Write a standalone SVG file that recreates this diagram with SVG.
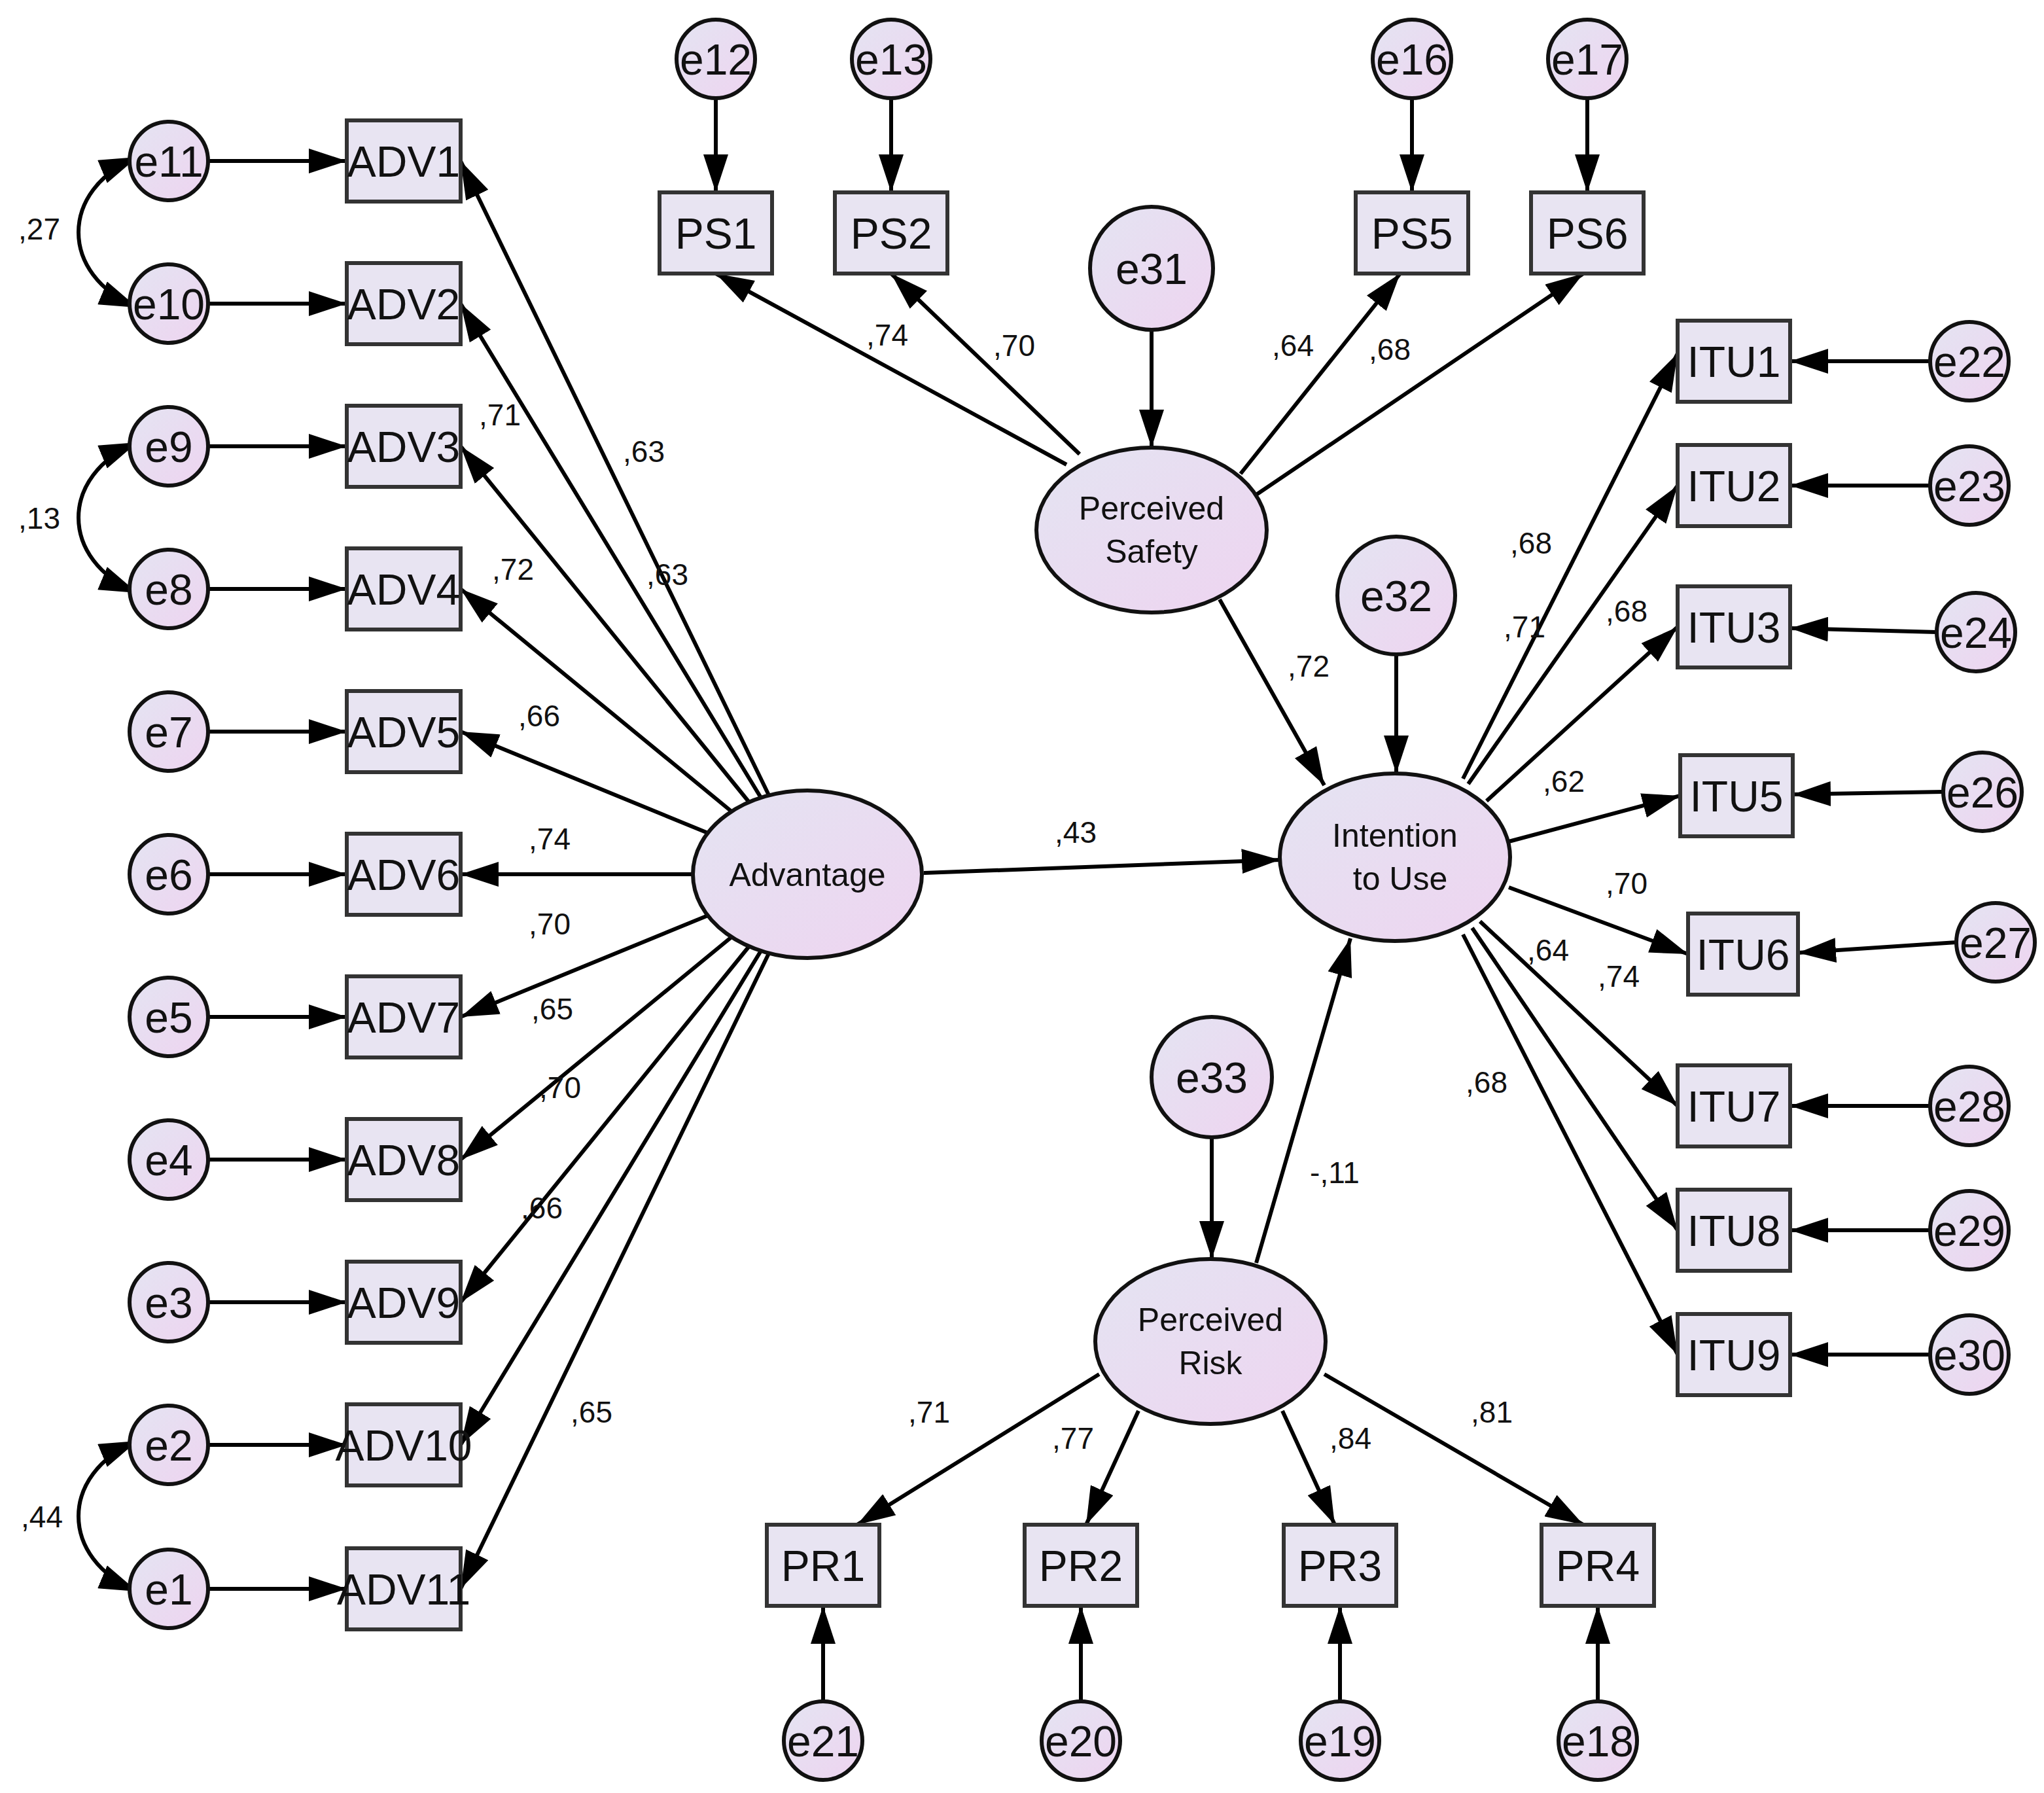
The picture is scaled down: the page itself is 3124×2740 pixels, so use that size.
<svg xmlns="http://www.w3.org/2000/svg" width="3124" height="2740" viewBox="0 0 3124 2740">
<defs>
<linearGradient id="g" x1="0" y1="0" x2="1" y2="1"><stop offset="0" stop-color="#e4e4f2"/><stop offset="1" stop-color="#eed4f0"/></linearGradient>
<marker id="a" markerUnits="userSpaceOnUse" markerWidth="60" markerHeight="38" refX="58" refY="19" orient="auto"><path d="M0,0 L58,19 L0,38 Z" fill="#000"/></marker>
<marker id="s" markerUnits="userSpaceOnUse" markerWidth="60" markerHeight="38" refX="58" refY="19" orient="auto-start-reverse"><path d="M0,0 L58,19 L0,38 Z" fill="#000"/></marker>
</defs>
<style>
.c{fill:url(#g);stroke:#111;stroke-width:6}
.b{fill:#e8e4f2;stroke:#333;stroke-width:6}
.t{font-family:"Liberation Sans",Arial,sans-serif;text-anchor:middle;fill:#111}
.et{font-size:66px}.bt{font-size:66px}.lt{font-size:50px}.nt{font-size:46px}
#conn line,#conn path{stroke:#000;stroke-width:6;fill:none;marker-end:url(#a)}
</style>
<rect width="3124" height="2740" fill="#fff"/>
<g id="conn">
<line x1="318" y1="246" x2="530" y2="246"/><line x1="318" y1="464" x2="530" y2="464"/>
<line x1="318" y1="682" x2="530" y2="682"/><line x1="318" y1="900" x2="530" y2="900"/>
<line x1="318" y1="1118" x2="530" y2="1118"/><line x1="318" y1="1336" x2="530" y2="1336"/>
<line x1="318" y1="1554" x2="530" y2="1554"/><line x1="318" y1="1772" x2="530" y2="1772"/>
<line x1="318" y1="1990" x2="530" y2="1990"/><line x1="318" y1="2208" x2="530" y2="2208"/>
<line x1="318" y1="2428" x2="530" y2="2428"/>
<path d="M210,240 C90,290 90,420 210,470" style="marker-start:url(#s)"/>
<path d="M210,676 C90,726 90,856 210,906" style="marker-start:url(#s)"/>
<path d="M210,2202 C90,2252 90,2382 210,2432" style="marker-start:url(#s)"/>
<line x1="1175" y1="1215" x2="704" y2="246"/><line x1="1163" y1="1219" x2="704" y2="464"/>
<line x1="1145" y1="1226" x2="704" y2="682"/><line x1="1118" y1="1240" x2="704" y2="900"/>
<line x1="1082" y1="1273" x2="704" y2="1118"/><line x1="1059" y1="1336" x2="704" y2="1336"/>
<line x1="1082" y1="1399" x2="704" y2="1554"/><line x1="1118" y1="1432" x2="704" y2="1772"/>
<line x1="1145" y1="1446" x2="704" y2="1990"/><line x1="1163" y1="1453" x2="704" y2="2208"/>
<line x1="1175" y1="1457" x2="704" y2="2428"/>
<line x1="1094" y1="150" x2="1094" y2="294"/><line x1="1362" y1="150" x2="1362" y2="294"/>
<line x1="2158" y1="150" x2="2158" y2="294"/><line x1="2426" y1="150" x2="2426" y2="294"/>
<line x1="1760" y1="504" x2="1760" y2="684"/>
<line x1="1630" y1="710" x2="1094" y2="418"/><line x1="1650" y1="694" x2="1362" y2="418"/>
<line x1="1896" y1="724" x2="2140" y2="418"/><line x1="1920" y1="756" x2="2420" y2="418"/>
<line x1="1864" y1="916" x2="2024" y2="1200"/>
<line x1="1412" y1="1334" x2="1956" y2="1314"/>
<line x1="2134" y1="1000" x2="2134" y2="1182"/>
<line x1="1852" y1="1738" x2="1852" y2="1924"/>
<line x1="1920" y1="1930" x2="2064" y2="1434"/>
<line x1="1680" y1="2100" x2="1310" y2="2330"/><line x1="1740" y1="2156" x2="1660" y2="2330"/>
<line x1="1960" y1="2156" x2="2040" y2="2330"/><line x1="2024" y1="2100" x2="2420" y2="2330"/>
<line x1="1258" y1="2600" x2="1258" y2="2454"/><line x1="1652" y1="2600" x2="1652" y2="2454"/>
<line x1="2048" y1="2600" x2="2048" y2="2454"/><line x1="2442" y1="2600" x2="2442" y2="2454"/>
<line x1="2236" y1="1190" x2="2564" y2="540"/><line x1="2244" y1="1198" x2="2564" y2="742"/>
<line x1="2272" y1="1224" x2="2564" y2="958"/><line x1="2306" y1="1286" x2="2568" y2="1216"/>
<line x1="2306" y1="1356" x2="2580" y2="1458"/><line x1="2262" y1="1408" x2="2564" y2="1690"/>
<line x1="2250" y1="1418" x2="2564" y2="1880"/><line x1="2236" y1="1428" x2="2564" y2="2070"/>
<line x1="2950" y1="552" x2="2736" y2="552"/><line x1="2950" y1="742" x2="2736" y2="742"/>
<line x1="2960" y1="966" x2="2736" y2="960"/><line x1="2970" y1="1210" x2="2740" y2="1214"/>
<line x1="2990" y1="1440" x2="2748" y2="1456"/><line x1="2950" y1="1690" x2="2736" y2="1690"/>
<line x1="2950" y1="1880" x2="2736" y2="1880"/><line x1="2950" y1="2070" x2="2736" y2="2070"/>
</g>
<g class="t nt">
<text x="60" y="366">,27</text><text x="60" y="808">,13</text><text x="64" y="2334">,44</text>
<text x="984" y="706">,63</text><text x="1020" y="894">,63</text><text x="764" y="650">,71</text>
<text x="784" y="886">,72</text><text x="824" y="1110">,66</text><text x="840" y="1298">,74</text>
<text x="840" y="1428">,70</text><text x="844" y="1558">,65</text><text x="856" y="1678">,70</text>
<text x="828" y="1862">,66</text><text x="904" y="2174">,65</text>
<text x="1356" y="528">,74</text><text x="1550" y="544">,70</text><text x="1976" y="544">,64</text><text x="2124" y="550">,68</text>
<text x="2000" y="1034">,72</text><text x="1644" y="1288">,43</text><text x="2040" y="1808">-,11</text>
<text x="1420" y="2174">,71</text><text x="1640" y="2214">,77</text><text x="2064" y="2214">,84</text><text x="2280" y="2174">,81</text>
<text x="2340" y="846">,68</text><text x="2330" y="974">,71</text><text x="2486" y="950">,68</text><text x="2390" y="1210">,62</text>
<text x="2486" y="1366">,70</text><text x="2366" y="1468">,64</text><text x="2474" y="1508">,74</text><text x="2272" y="1670">,68</text>
</g>
<g id="e11"><circle class="c" cx="258" cy="246" r="60"/><text class="t et" x="258" y="270">e11</text></g>
<g id="e10"><circle class="c" cx="258" cy="464" r="60"/><text class="t et" x="258" y="488">e10</text></g>
<g id="e9"><circle class="c" cx="258" cy="682" r="60"/><text class="t et" x="258" y="706">e9</text></g>
<g id="e8"><circle class="c" cx="258" cy="900" r="60"/><text class="t et" x="258" y="924">e8</text></g>
<g id="e7"><circle class="c" cx="258" cy="1118" r="60"/><text class="t et" x="258" y="1142">e7</text></g>
<g id="e6"><circle class="c" cx="258" cy="1336" r="60"/><text class="t et" x="258" y="1360">e6</text></g>
<g id="e5"><circle class="c" cx="258" cy="1554" r="60"/><text class="t et" x="258" y="1578">e5</text></g>
<g id="e4"><circle class="c" cx="258" cy="1772" r="60"/><text class="t et" x="258" y="1796">e4</text></g>
<g id="e3"><circle class="c" cx="258" cy="1990" r="60"/><text class="t et" x="258" y="2014">e3</text></g>
<g id="e2"><circle class="c" cx="258" cy="2208" r="60"/><text class="t et" x="258" y="2232">e2</text></g>
<g id="e1"><circle class="c" cx="258" cy="2428" r="60"/><text class="t et" x="258" y="2452">e1</text></g>
<g id="ADV1"><rect class="b" x="530" y="184" width="174" height="124"/><text class="t bt" x="617" y="270">ADV1</text></g>
<g id="ADV2"><rect class="b" x="530" y="402" width="174" height="124"/><text class="t bt" x="617" y="488">ADV2</text></g>
<g id="ADV3"><rect class="b" x="530" y="620" width="174" height="124"/><text class="t bt" x="617" y="706">ADV3</text></g>
<g id="ADV4"><rect class="b" x="530" y="838" width="174" height="124"/><text class="t bt" x="617" y="924">ADV4</text></g>
<g id="ADV5"><rect class="b" x="530" y="1056" width="174" height="124"/><text class="t bt" x="617" y="1142">ADV5</text></g>
<g id="ADV6"><rect class="b" x="530" y="1274" width="174" height="124"/><text class="t bt" x="617" y="1360">ADV6</text></g>
<g id="ADV7"><rect class="b" x="530" y="1492" width="174" height="124"/><text class="t bt" x="617" y="1578">ADV7</text></g>
<g id="ADV8"><rect class="b" x="530" y="1710" width="174" height="124"/><text class="t bt" x="617" y="1796">ADV8</text></g>
<g id="ADV9"><rect class="b" x="530" y="1928" width="174" height="124"/><text class="t bt" x="617" y="2014">ADV9</text></g>
<g id="ADV10"><rect class="b" x="530" y="2146" width="174" height="124"/><text class="t bt" x="617" y="2232">ADV10</text></g>
<g id="ADV11"><rect class="b" x="530" y="2366" width="174" height="124"/><text class="t bt" x="617" y="2452">ADV11</text></g>
<g id="Advantage"><ellipse class="c" cx="1234" cy="1336" rx="175" ry="128"/><text class="t lt" x="1234" y="1354">Advantage</text></g>
<g id="e12"><circle class="c" cx="1094" cy="90" r="60"/><text class="t et" x="1094" y="114">e12</text></g>
<g id="e13"><circle class="c" cx="1362" cy="90" r="60"/><text class="t et" x="1362" y="114">e13</text></g>
<g id="e16"><circle class="c" cx="2158" cy="90" r="60"/><text class="t et" x="2158" y="114">e16</text></g>
<g id="e17"><circle class="c" cx="2426" cy="90" r="60"/><text class="t et" x="2426" y="114">e17</text></g>
<g id="PS1"><rect class="b" x="1008" y="294" width="172" height="124"/><text class="t bt" x="1094" y="380">PS1</text></g>
<g id="PS2"><rect class="b" x="1276" y="294" width="172" height="124"/><text class="t bt" x="1362" y="380">PS2</text></g>
<g id="PS5"><rect class="b" x="2072" y="294" width="172" height="124"/><text class="t bt" x="2158" y="380">PS5</text></g>
<g id="PS6"><rect class="b" x="2340" y="294" width="172" height="124"/><text class="t bt" x="2426" y="380">PS6</text></g>
<g id="e31"><circle class="c" cx="1760" cy="410" r="94"/><text class="t et" x="1760" y="434">e31</text></g>
<g id="PerceivedSafety"><ellipse class="c" cx="1760" cy="810" rx="176" ry="126"/><text class="t lt" x="1760" y="794">Perceived</text><text class="t lt" x="1760" y="860">Safety</text></g>
<g id="e32"><circle class="c" cx="2134" cy="910" r="90"/><text class="t et" x="2134" y="934">e32</text></g>
<g id="IntentionToUse"><ellipse class="c" cx="2132" cy="1310" rx="176" ry="128"/><text class="t lt" x="2132" y="1294">Intention</text><text class="t lt" x="2140" y="1360">to Use</text></g>
<g id="e33"><circle class="c" cx="1852" cy="1646" r="92"/><text class="t et" x="1852" y="1670">e33</text></g>
<g id="PerceivedRisk"><ellipse class="c" cx="1850" cy="2050" rx="176" ry="126"/><text class="t lt" x="1850" y="2034">Perceived</text><text class="t lt" x="1850" y="2100">Risk</text></g>
<g id="PR1"><rect class="b" x="1172" y="2330" width="172" height="124"/><text class="t bt" x="1258" y="2416">PR1</text></g>
<g id="PR2"><rect class="b" x="1566" y="2330" width="172" height="124"/><text class="t bt" x="1652" y="2416">PR2</text></g>
<g id="PR3"><rect class="b" x="1962" y="2330" width="172" height="124"/><text class="t bt" x="2048" y="2416">PR3</text></g>
<g id="PR4"><rect class="b" x="2356" y="2330" width="172" height="124"/><text class="t bt" x="2442" y="2416">PR4</text></g>
<g id="e21"><circle class="c" cx="1258" cy="2660" r="60"/><text class="t et" x="1258" y="2684">e21</text></g>
<g id="e20"><circle class="c" cx="1652" cy="2660" r="60"/><text class="t et" x="1652" y="2684">e20</text></g>
<g id="e19"><circle class="c" cx="2048" cy="2660" r="60"/><text class="t et" x="2048" y="2684">e19</text></g>
<g id="e18"><circle class="c" cx="2442" cy="2660" r="60"/><text class="t et" x="2442" y="2684">e18</text></g>
<g id="ITU1"><rect class="b" x="2564" y="490" width="172" height="124"/><text class="t bt" x="2650" y="576">ITU1</text></g>
<g id="ITU2"><rect class="b" x="2564" y="680" width="172" height="124"/><text class="t bt" x="2650" y="766">ITU2</text></g>
<g id="ITU3"><rect class="b" x="2564" y="896" width="172" height="124"/><text class="t bt" x="2650" y="982">ITU3</text></g>
<g id="ITU5"><rect class="b" x="2568" y="1154" width="172" height="124"/><text class="t bt" x="2654" y="1240">ITU5</text></g>
<g id="ITU6"><rect class="b" x="2580" y="1396" width="168" height="124"/><text class="t bt" x="2664" y="1482">ITU6</text></g>
<g id="ITU7"><rect class="b" x="2564" y="1628" width="172" height="124"/><text class="t bt" x="2650" y="1714">ITU7</text></g>
<g id="ITU8"><rect class="b" x="2564" y="1818" width="172" height="124"/><text class="t bt" x="2650" y="1904">ITU8</text></g>
<g id="ITU9"><rect class="b" x="2564" y="2008" width="172" height="124"/><text class="t bt" x="2650" y="2094">ITU9</text></g>
<g id="e22"><circle class="c" cx="3010" cy="552" r="60"/><text class="t et" x="3010" y="576">e22</text></g>
<g id="e23"><circle class="c" cx="3010" cy="742" r="60"/><text class="t et" x="3010" y="766">e23</text></g>
<g id="e24"><circle class="c" cx="3020" cy="966" r="60"/><text class="t et" x="3020" y="990">e24</text></g>
<g id="e26"><circle class="c" cx="3030" cy="1210" r="60"/><text class="t et" x="3030" y="1234">e26</text></g>
<g id="e27"><circle class="c" cx="3050" cy="1440" r="60"/><text class="t et" x="3050" y="1464">e27</text></g>
<g id="e28"><circle class="c" cx="3010" cy="1690" r="60"/><text class="t et" x="3010" y="1714">e28</text></g>
<g id="e29"><circle class="c" cx="3010" cy="1880" r="60"/><text class="t et" x="3010" y="1904">e29</text></g>
<g id="e30"><circle class="c" cx="3010" cy="2070" r="60"/><text class="t et" x="3010" y="2094">e30</text></g>
</svg>
